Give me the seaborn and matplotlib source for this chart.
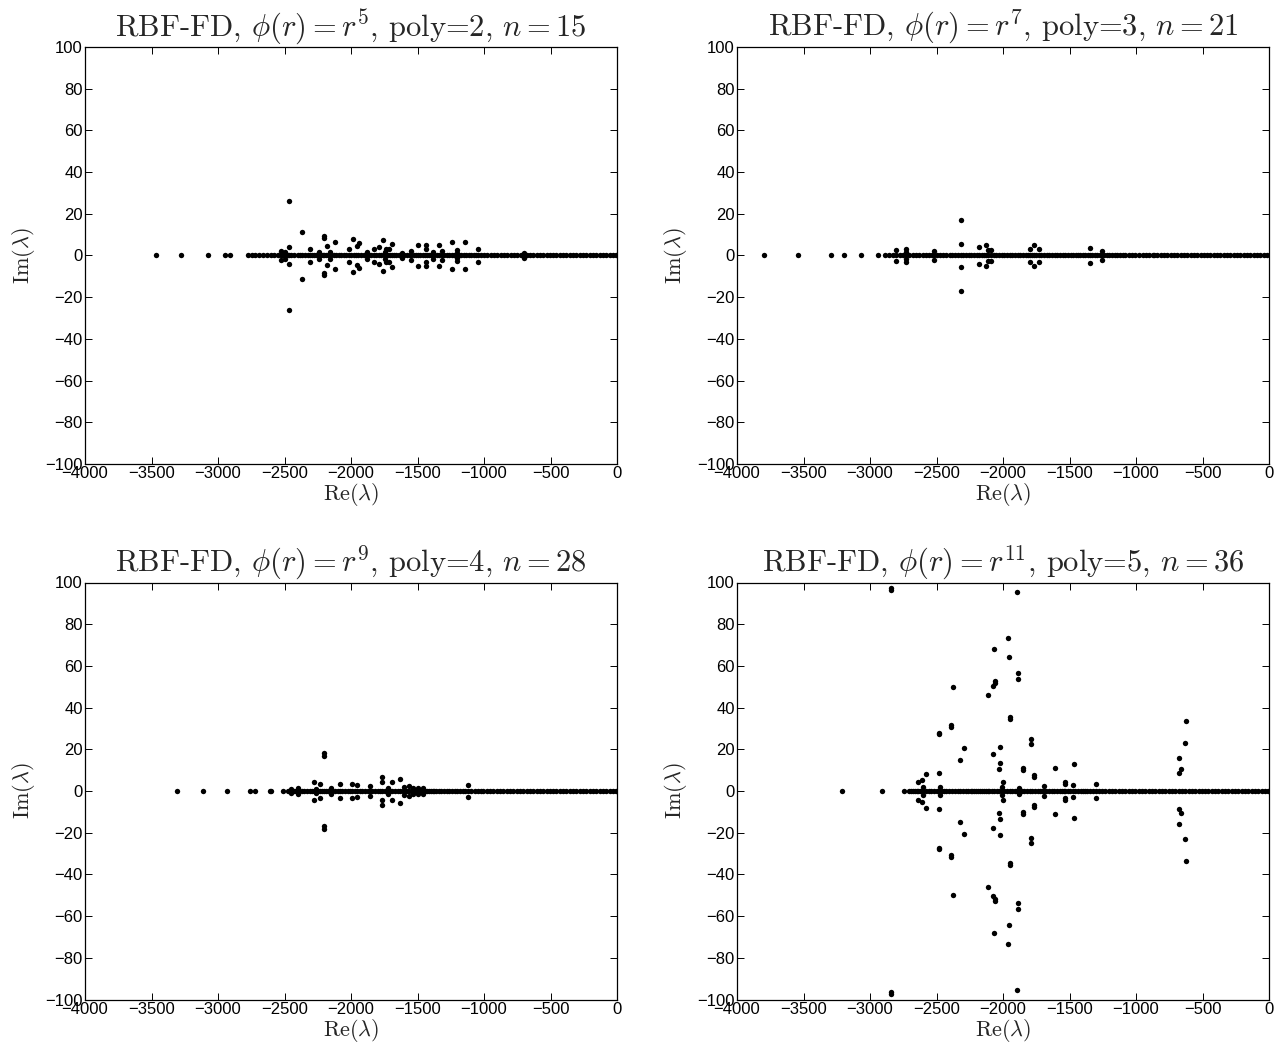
import numpy as np
import pandas as pd
import matplotlib
matplotlib.use("Agg")
import matplotlib.pyplot as plt
import seaborn as sns

# panel settings: phi(r) = r^k, poly degree, stencil size n
powers = [5, 7, 9, 11]
poly_deg = [2, 3, 4, 5]
stencil_n = [15, 21, 28, 36]

# ---- panel 1: real eigenvalues (on the axis) ----
p1_axis_re = [-3466, -3275, -3075, -2945, -2907,
              -2777, -2748, -2720, -2690, -2662, -2633, -2605, -2576, -2548, -2530, -2521, -2512,
              -2490, -2470, -2463, -2448, -2425, -2402, -2380, -2366, -2345, -2322, -2306, -2296,
              -2280, -2262, -2245, -2226, -2210, -2200, -2186, -2170, -2150, -2130, -2112, -2093,
              -2075, -2055, -2037, -2017, -1998, -1980, -1962, -1945, -1925, -1905, -1887, -1868,
              -1850, -1829, -1810, -1790, -1772, -1755, -1740, -1725, -1710, -1694, -1678, -1660,
              -1640, -1620, -1600, -1580, -1560, -1549, -1530, -1512, -1496, -1478, -1460, -1445,
              -1430, -1412, -1395, -1375, -1356, -1336, -1316, -1298, -1280, -1262, -1243, -1225,
              -1205, -1188, -1170, -1152, -1133, -1115, -1096, -1077, -1058, -1047, -1025, -1000,
              -975, -950, -925, -900, -875, -850, -825, -800, -775, -750, -725, -702, -680, -655,
              -630, -605, -580, -555, -530, -505, -480, -455, -430, -405, -380, -355, -330, -305,
              -280, -255, -230, -205, -180, -155, -130, -105, -80, -55, -30, -10]
# complex pairs (upper half, conjugates are drawn too)
p1_off_re = [-2463, -2463, -2525, -2366, -2306, -2200, -2180, -2123, -2017, -1985, -1955, -1942,
             -1829, -1789, -1759, -1734, -1717, -1694, -1549, -1496, -1436, -1436, -1336, -1316,
             -1240, -1203, -1140, -1047, -702, -2500, -2240, -2160, -1880, -1745, -1620, -1380,
             -1205, -2205]
p1_off_im = [26.3, 4.0, 2.0, 11.3, 3.0, 9.3, 4.6, 6.5, 3.0, 8.0, 4.5, 6.0,
             3.0, 4.3, 7.6, 3.0, 3.0, 5.6, 2.0, 5.0, 5.0, 3.0, 5.0, 2.0,
             6.5, 2.5, 6.3, 3.3, 1.3, 1.5, 1.5, 1.5, 1.5, 1.5, 1.2, 1.5,
             1.2, 8.4]

# ---- panel 2 ----
p2_axis_re = [-3794, -3541, -3295, -3195, -3070, -2942,
              -2887, -2860, -2830, -2802, -2775, -2750, -2731, -2705, -2680, -2655, -2630, -2605,
              -2580, -2555, -2535, -2521, -2500, -2475, -2450, -2425, -2400, -2380, -2360, -2340,
              -2318, -2298, -2278, -2258, -2238, -2218, -2198, -2180, -2160, -2140, -2125, -2110,
              -2090, -2070, -2050, -2030, -2010, -1990, -1970, -1950, -1930, -1910, -1890, -1870,
              -1850, -1830, -1812, -1794, -1782, -1769, -1750, -1732, -1712, -1692, -1672, -1652,
              -1632, -1612, -1592, -1572, -1552, -1532, -1512, -1492, -1472, -1452, -1435, -1418,
              -1400, -1380, -1360, -1348, -1330, -1310, -1290, -1270, -1258, -1240, -1220, -1200,
              -1180, -1160, -1140, -1120, -1100, -1080, -1055, -1030, -1005, -975, -950, -925,
              -900, -875, -862, -840, -815, -790, -765, -740, -715, -690, -665, -640, -615, -590,
              -565, -540, -515, -490, -465, -440, -415, -390, -365, -340, -315, -290, -265, -240,
              -215, -190, -165, -140, -115, -90, -65, -40, -18]
p2_off_re = [-2802, -2731, -2731, -2521, -2318, -2318, -2180, -2125, -2110, -2090,
             -1794, -1769, -1732, -1348, -1258]
p2_off_im = [2.7, 3.3, 1.5, 2.2, 17.2, 5.4, 4.2, 5.0, 2.8, 2.8,
             3.3, 5.0, 3.0, 3.6, 2.1]

# ---- panel 3 ----
p3_axis_re = [-3305, -3110, -2929, -2759, -2721, -2610, -2598, -2508, -2471,
              -2453, -2430, -2410, -2390, -2370, -2350, -2330, -2310, -2290, -2278, -2260, -2245,
              -2233, -2215, -2203, -2190, -2175, -2160, -2140, -2120, -2100, -2083, -2065, -2045,
              -2025, -2005, -1990, -1970, -1952, -1935, -1915, -1895, -1875, -1857, -1840, -1820,
              -1800, -1782, -1764, -1745, -1725, -1705, -1689, -1670, -1650, -1631, -1612, -1595,
              -1580, -1561, -1545, -1531, -1515, -1500, -1485, -1470, -1456, -1440, -1425, -1410,
              -1395, -1381, -1375, -1360, -1340, -1320, -1300, -1280, -1260, -1240, -1220, -1200,
              -1180, -1160, -1140, -1118, -1095, -1070, -1045, -1020, -1005, -980, -955, -930,
              -905, -880, -855, -830, -805, -780, -754, -730, -705, -680, -655, -630, -605, -580,
              -555, -530, -505, -480, -455, -430, -405, -380, -355, -330, -305, -280, -255, -230,
              -205, -180, -155, -130, -105, -80, -55, -30, -10]
p3_off_re = [-2453, -2278, -2265, -2233, -2203, -2203, -2083, -1990, -1952, -1857, -1764, -1764,
             -1689, -1631, -1561, -1531, -1495, -1456, -1118, -2400, -2150, -1720, -1600]
p3_off_im = [1.0, 4.1, 1.0, 3.4, 18.1, 16.8, 3.5, 3.3, 2.7, 2.5, 6.9, 4.3,
             4.3, 5.7, 2.4, 1.5, 1.5, 1.5, 3.0, 1.2, 1.2, 1.5, 2.0]

# ---- panel 4 ----
p4_axis_re = [-3208, -2909, -2742,
              -2710, -2691, -2680, -2665, -2649, -2636, -2624, -2611, -2599, -2581, -2560, -2540,
              -2516, -2497, -2478, -2460, -2443, -2425, -2405, -2385, -2361, -2340, -2320, -2300,
              -2280, -2260, -2240, -2235, -2215, -2200, -2185, -2170, -2155, -2140, -2127, -2115,
              -2102, -2085, -2065, -2045, -2027, -2010, -1990, -1970, -1950, -1930, -1910, -1893,
              -1877, -1860, -1840, -1820, -1800, -1780, -1759, -1740, -1721, -1708, -1694, -1675,
              -1655, -1635, -1615, -1595, -1575, -1555, -1540, -1533, -1515, -1495, -1475, -1455,
              -1435, -1415, -1395, -1381, -1365, -1345, -1325, -1300, -1280, -1255, -1230, -1205,
              -1180, -1155, -1130, -1105, -1080, -1055, -1030, -1005, -980, -955, -930, -905,
              -880, -855, -830, -805, -780, -755, -730, -705, -680, -655, -630, -605, -580, -555,
              -530, -505, -480, -455, -430, -405, -380, -355, -330, -305, -280, -255, -230, -205,
              -180, -155, -130, -105, -80, -55, -30, -10]
p4_off_re = [-2844, -2840, -2378, -2393, -2393, -2478, -2478, -2323, -2478, -2581, -2611, -2636,
             -2599, -2471, -1892, -1962, -2070, -1954, -1887, -1887, -2077, -2060, -2060, -2115,
             -1944, -1944, -626, -631, -676, -664, -676, -1787, -1787, -2295, -2025, -2077,
             -2020, -2027, -1847, -1847, -1764, -1764, -1611, -1463, -1533, -1533, -1473, -1300,
             -2002, -2010, -1694, -1877]
p4_off_im = [97.2, 96.2, 49.7, 31.5, 30.5, 28.0, 27.3, 14.9, 8.5, 8.0, 5.3, 4.5,
             2.0, 1.8, 95.3, 73.5, 67.9, 64.3, 56.8, 53.6, 50.2, 52.6, 51.8, 45.9,
             35.7, 34.4, 33.4, 23.2, 15.8, 10.7, 8.5, 25.1, 22.7, 20.5, 21.3, 17.6,
             13.6, 10.4, 10.9, 10.0, 7.7, 6.6, 10.9, 13.1, 4.5, 3.4, 2.7, 3.4,
             4.2, 1.8, 2.4, 1.3]

axis_re = [p1_axis_re, p2_axis_re, p3_axis_re, p4_axis_re]
off_re = [p1_off_re, p2_off_re, p3_off_re, p4_off_re]
off_im = [p1_off_im, p2_off_im, p3_off_im, p4_off_im]

x_ticks = list(range(-4000, 1, 500))
y_ticks = list(range(-100, 101, 20))

sns.set_style("ticks")
plt.rcParams["font.family"] = ["Liberation Sans", "DejaVu Sans"]
plt.rcParams["mathtext.fontset"] = "cm"
plt.rcParams["xtick.direction"] = "in"
plt.rcParams["ytick.direction"] = "in"
plt.rcParams["xtick.top"] = True
plt.rcParams["ytick.right"] = True

fig = plt.figure(figsize=(12.84, 10.51), dpi=100)
W, H = 1284, 1051
# axes boxes in pixels: left, top
boxes = [(85, 47), (737, 47), (85, 582.5), (737, 582.5)]
aw, ah = 532, 417

for i in range(4):
    left, top = boxes[i]
    ax = fig.add_axes([left / W, 1 - (top + ah) / H, aw / W, ah / H])

    re_all = list(axis_re[i]) + list(off_re[i]) + list(off_re[i])
    im_all = [0.0] * len(axis_re[i]) + list(off_im[i]) + [-v for v in off_im[i]]
    df = pd.DataFrame({"re": re_all, "im": im_all})

    sns.scatterplot(data=df, x="re", y="im", ax=ax, color="black",
                    s=15, linewidth=0, legend=False)

    ax.set_xlim(-4000, 0)
    ax.set_ylim(-100, 100)
    ax.set_xticks(x_ticks)
    ax.set_yticks(y_ticks)
    ax.tick_params(labelsize=12, length=5, width=0.7, colors="black", pad=1.5)
    for sp in ax.spines.values():
        sp.set_visible(True)
        sp.set_linewidth(0.9)
        sp.set_color("black")

    title = (r"RBF-FD, $\phi(r) = r^{%d}$, poly=%d, $n = %d$"
             % (powers[i], poly_deg[i], stencil_n[i]))
    ax.set_title(title, fontsize=22, family="cmr10", pad=8)
    ax.set_xlabel(r"$\mathrm{Re}(\lambda)$", fontsize=16, labelpad=0)
    ax.set_ylabel(r"$\mathrm{Im}(\lambda)$", fontsize=16, labelpad=6)

fig.savefig("out.png", dpi=100)
